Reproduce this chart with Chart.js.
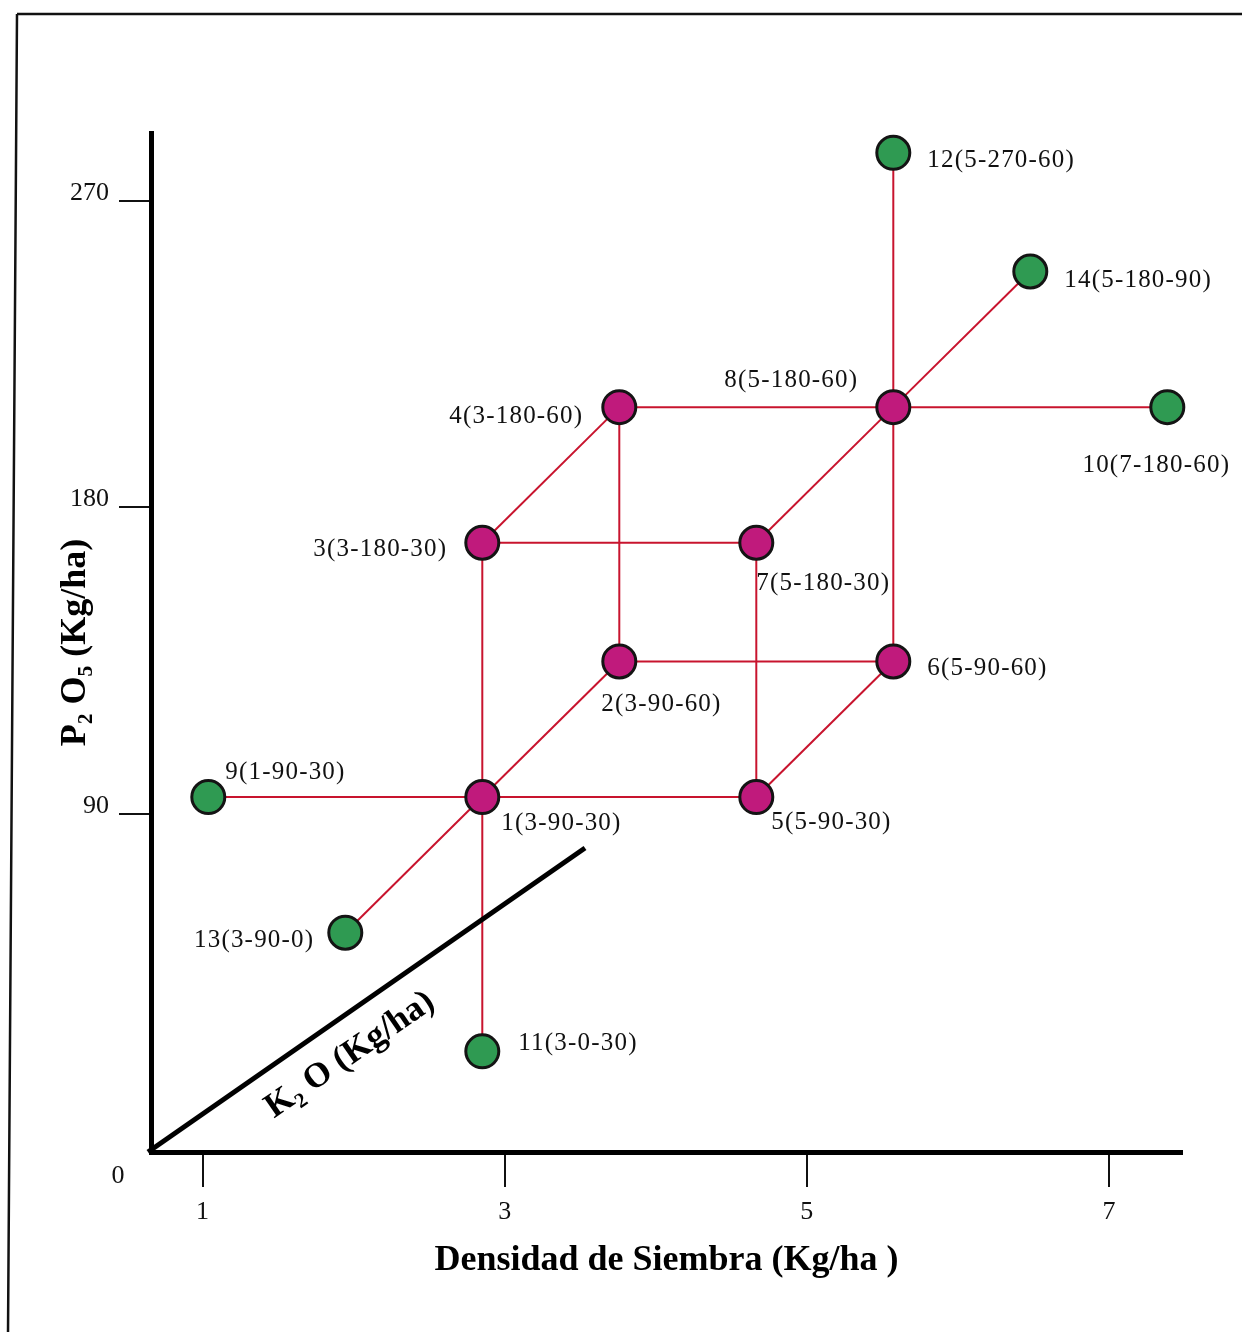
<!DOCTYPE html>
<html>
<head>
<meta charset="utf-8">
<script src="https://cdn.jsdelivr.net/npm/chart.js@4.4.1/dist/chart.umd.min.js"></script>
<style>
  html, body { margin: 0; padding: 0; background: #ffffff; }
  #wrap { width: 1242px; height: 1332px; position: relative; }
</style>
</head>
<body>
<div id="wrap"><canvas id="chart" width="1242" height="1332"></canvas></div>
<script>
// ---------------- DATA ----------------
const treatmentIds = [1, 2, 3, 4, 5, 6, 7, 8, 9, 10, 11, 12, 13, 14];
const density      = [3, 3, 3, 3, 5, 5, 5, 5, 1, 7, 3, 5, 3, 5];          // Kg/ha
const p2o5         = [90, 90, 180, 180, 90, 90, 180, 180, 90, 180, 0, 270, 90, 180]; // Kg/ha
const k2o          = [30, 60, 30, 60, 30, 60, 30, 60, 30, 60, 30, 60, 0, 90];        // Kg/ha
const cubeTreatments  = [1, 2, 3, 4, 5, 6, 7, 8];
const axialTreatments = [9, 10, 11, 12, 13, 14];
const edges = [
  [1, 3], [1, 5], [3, 7], [5, 7],
  [2, 4], [2, 6], [4, 8], [6, 8],
  [1, 2], [3, 4], [5, 6], [7, 8],
  [9, 1], [1, 11], [13, 1], [8, 10], [8, 12], [8, 14]
];
const densityTicks = [1, 3, 5, 7];
const p2o5Ticks    = [90, 180, 270];
const originLabel  = '0';
const xTitle = 'Densidad de Siembra (Kg/ha )';
const yTitle = 'P\u2082 O\u2085 (Kg/ha)';
const kTitle = 'K\u2082 O (Kg/ha)';

// ---------------- DRAWING SETUP ----------------
// oblique projection of the K2O axis onto the (density, P2O5) plane
const K_DX = 1 / 30, K_DY = 1.6;
const idx = id => treatmentIds.indexOf(id);
const proj = id => {
  const i = idx(id);
  return { x: density[i] + k2o[i] * K_DX, y: p2o5[i] + k2o[i] * K_DY, id: id };
};
const labelOf = id => {
  const i = idx(id);
  return id + '(' + density[i] + '-' + p2o5[i] + '-' + k2o[i] + ')';
};

const SERIF = '"Liberation Serif", "DejaVu Serif", "Times New Roman", serif';
const RED = '#c8142e';

// label placement relative to each point
const labelPlace = {
  1: ['left', 19, 26], 2: ['left', -18, 43], 3: ['right', -35, 7], 4: ['right', -36, 9],
  5: ['left', 15, 25], 6: ['left', 34, 7], 7: ['left', 0, 41], 8: ['right', -35, -27],
  9: ['left', 17, -25], 10: ['center', -11, 58], 11: ['left', 36, -8], 12: ['left', 34, 8],
  13: ['right', -31, 8], 14: ['left', 34, 9]
};

const datasets = [
  {
    type: 'scatter', label: 'Cubo', xAxisID: 'px', yAxisID: 'py', order: 0, clip: false,
    data: cubeTreatments.map(proj),
    pointRadius: 16.5, pointHoverRadius: 16.5,
    pointBackgroundColor: '#c01a7c', pointBorderColor: '#141414', pointBorderWidth: 3
  },
  {
    type: 'scatter', label: 'Axiales', xAxisID: 'px', yAxisID: 'py', order: 0, clip: false,
    data: axialTreatments.map(proj),
    pointRadius: 16.5, pointHoverRadius: 16.5,
    pointBackgroundColor: '#2f9a52', pointBorderColor: '#141414', pointBorderWidth: 3
  }
].concat(edges.map(([a, b]) => ({
  type: 'line', label: 'e' + a + '-' + b, xAxisID: 'px', yAxisID: 'py', order: 1, clip: false,
  data: [proj(a), proj(b)], showLine: true, pointRadius: 0, pointHoverRadius: 0,
  borderColor: RED, borderWidth: 2, fill: false, tension: 0
})));

const decor = {
  id: 'decor',
  beforeDraw(chart) {
    const ctx = chart.ctx;
    ctx.save();
    ctx.strokeStyle = '#111';
    ctx.lineWidth = 2.5;
    ctx.beginPath();
    ctx.moveTo(17, 14); ctx.lineTo(1242, 14);
    ctx.moveTo(17, 14); ctx.lineTo(8, 1332);
    ctx.stroke();
    ctx.restore();
  },
  afterDatasetsDraw(chart) {
    const ctx = chart.ctx;
    const a = chart.chartArea;
    const sx = chart.scales.px, sy = chart.scales.py;
    ctx.save();
    // K2O oblique axis
    ctx.strokeStyle = '#000';
    ctx.lineWidth = 5;
    ctx.lineCap = 'butt';
    ctx.beginPath();
    ctx.moveTo(a.left - 3, a.bottom);
    ctx.lineTo(a.left + 434, a.bottom - 304);
    ctx.stroke();
    // K2O title
    ctx.save();
    ctx.translate(a.left + 199, a.bottom - 97);
    ctx.rotate(-34.6 * Math.PI / 180);
    ctx.font = 'bold 35px ' + SERIF;
    ctx.fillStyle = '#000';
    ctx.textAlign = 'center';
    ctx.textBaseline = 'middle';
    ctx.fillText(kTitle, 0, 0);
    ctx.restore();
    // origin label
    ctx.font = '26px ' + SERIF;
    ctx.fillStyle = '#111';
    ctx.textAlign = 'center';
    ctx.textBaseline = 'middle';
    ctx.fillText(originLabel, a.left - 33, a.bottom + 24);
    // point labels
    ctx.font = '25px ' + SERIF;
    ctx.letterSpacing = '1.2px';
    ctx.textBaseline = 'middle';
    treatmentIds.forEach(id => {
      const p = proj(id);
      const px = sx.getPixelForValue(p.x), py = sy.getPixelForValue(p.y);
      const [align, dx, dy] = labelPlace[id];
      ctx.textAlign = align;
      ctx.fillText(labelOf(id), px + dx, py + dy);
    });
    ctx.letterSpacing = '0px';
    ctx.restore();
  }
};

new Chart(document.getElementById('chart'), {
  data: { datasets: datasets },
  options: {
    responsive: false,
    animation: false,
    events: [],
    layout: { padding: { left: 0, right: 60, top: 133, bottom: 0 } },
    plugins: { legend: { display: false }, tooltip: { enabled: false } },
    scales: {
      x: {
        type: 'linear', position: 'bottom', min: 0.6584, max: 7.484,
        afterBuildTicks: s => { s.ticks = densityTicks.map(v => ({ value: v })); },
        afterFit: s => { s.height = 180; },
        ticks: { font: { family: SERIF, size: 26 }, color: '#111', padding: 10, maxRotation: 0, autoSkip: false,
                 callback: v => String(v) },
        grid: { drawOnChartArea: false, drawTicks: true, tickLength: 35, color: '#111', lineWidth: 2 },
        border: { display: true, color: '#000', width: 5 },
        title: { display: true, text: xTitle, color: '#000',
                 font: { family: SERIF, size: 36, weight: 'bold' }, padding: { top: 0, bottom: 50 } }
      },
      y: {
        type: 'linear', position: 'left', min: -9.35, max: 290.01,
        afterBuildTicks: s => { s.ticks = p2o5Ticks.map(v => ({ value: v })); },
        afterFit: s => { s.width = 151; },
        ticks: { font: { family: SERIF, size: 26 }, color: '#111', padding: 10, labelOffset: -8, autoSkip: false,
                 callback: v => String(v) },
        grid: { drawOnChartArea: false, drawTicks: true, tickLength: 32, color: '#111', lineWidth: 2 },
        border: { display: true, color: '#000', width: 5 },
        title: { display: true, text: yTitle, color: '#000',
                 font: { family: SERIF, size: 36, weight: 'bold' }, padding: { top: 54, bottom: 0 } }
      },
      px: { type: 'linear', display: false, position: 'bottom', min: 1.5818, max: 9.1073 },
      py: { type: 'linear', display: false, position: 'left', min: 12.387, max: 373.02 }
    }
  },
  plugins: [decor]
});
</script>
</body>
</html>
